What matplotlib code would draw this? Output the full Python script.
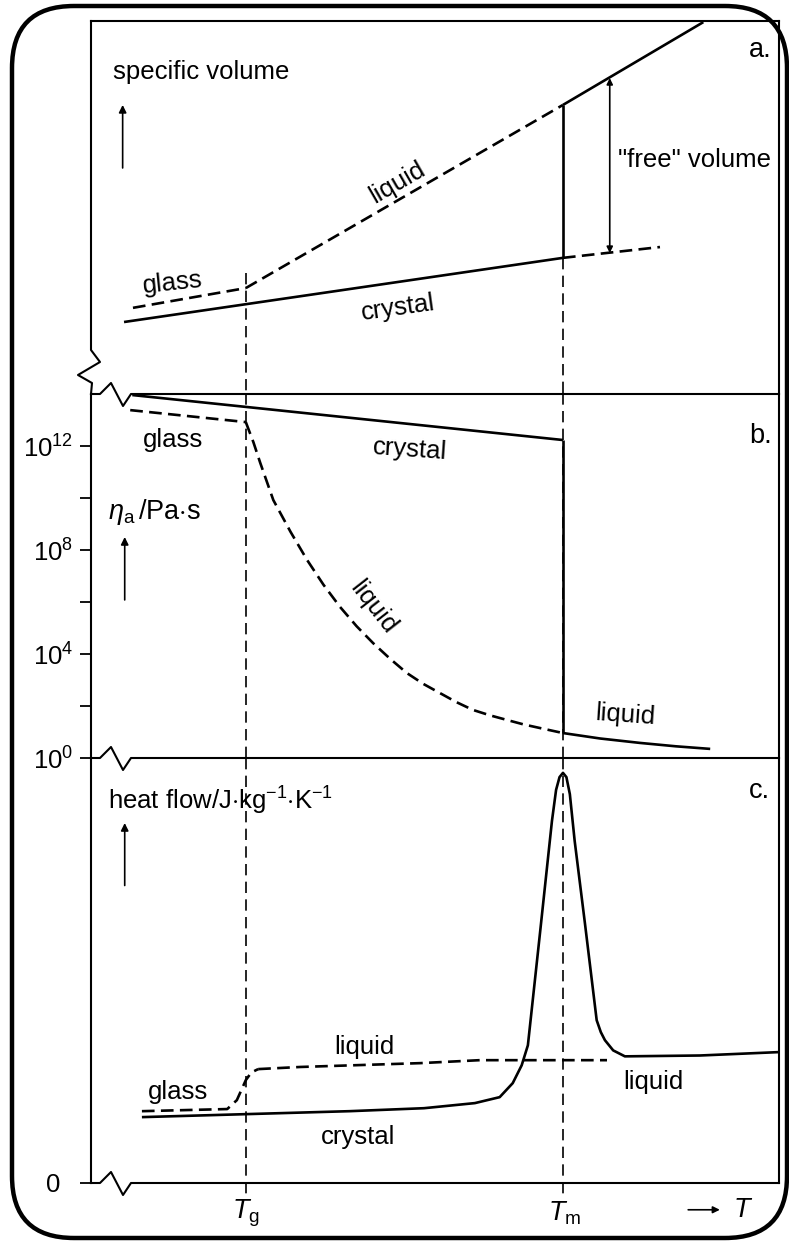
import numpy as np
import matplotlib
matplotlib.use('Agg')
import matplotlib.pyplot as plt
from matplotlib.patches import FancyBboxPatch
from matplotlib.ticker import FixedLocator, FixedFormatter, NullFormatter

plt.rcParams['font.family'] = ['Liberation Sans', 'DejaVu Sans']
plt.rcParams['mathtext.fontset'] = 'custom'
plt.rcParams['mathtext.rm'] = 'Liberation Sans'
plt.rcParams['mathtext.it'] = 'Liberation Sans:italic'
plt.rcParams['mathtext.bf'] = 'Liberation Sans:bold'

# temperature axis (arbitrary units)
T_g = 2.25
T_m = 6.86

# ---- a. specific volume ----
T_a_crystal = [0.48, 6.86]
V_a_crystal = [1.93, 3.65]
T_a_crystal_ext = [6.86, 8.27]
V_a_crystal_ext = [3.65, 3.94]
T_a_glass = [0.61, 2.25]
V_a_glass = [2.31, 2.84]
T_a_supercooled = [2.25, 6.86]
V_a_supercooled = [2.84, 7.75]
T_a_liquid = [6.86, 8.90]
V_a_liquid = [7.75, 9.97]
T_free = 7.54
V_free = [3.78, 8.47]
V_tg_top = 3.24

# ---- b. viscosity (log10 Pa s) ----
T_b_crystal = [0.60, 6.86]
logeta_b_crystal = [13.96, 12.23]
T_b_glass = [0.57, 2.25]
logeta_b_glass = [13.38, 12.92]
T_b_supercooled = [2.25, 2.36, 2.46, 2.65, 2.90, 3.14, 3.38, 3.62, 3.86, 4.10, 4.35,
                   4.59, 4.83, 5.07, 5.31, 5.55, 5.80, 6.05, 6.29, 6.53, 6.86]
logeta_b_supercooled = [12.92, 12.15, 11.35, 9.92, 8.70, 7.62, 6.66, 5.81, 5.07, 4.42, 3.81,
                        3.27, 2.85, 2.50, 2.15, 1.85, 1.64, 1.46, 1.29, 1.15, 0.96]
T_b_liquid = [6.86, 7.40, 7.98, 8.50, 9.00]
logeta_b_liquid = [0.96, 0.75, 0.58, 0.45, 0.35]
eta_ticks = [0, 4, 8, 12]
eta_minor = [2, 6, 10]

# ---- c. heat flow ----
T_c_crystal = [0.74, 2.25, 3.76, 4.84, 5.58, 5.94, 6.13, 6.26, 6.35, 6.53, 6.70, 6.76,
               6.81, 6.86, 6.91, 6.96, 7.03, 7.18, 7.35, 7.41, 7.47, 7.59, 7.76, 8.85, 10.0]
H_c_crystal = [1.55, 1.62, 1.69, 1.76, 1.88, 2.02, 2.35, 2.77, 3.24, 5.94, 8.52, 9.25,
               9.55, 9.65, 9.55, 9.15, 8.05, 6.10, 3.83, 3.55, 3.36, 3.12, 2.98, 3.00, 3.08]
T_c_glass = [0.74, 1.98, 2.12, 2.25, 2.33, 2.43]
H_c_glass = [1.69, 1.74, 1.95, 2.42, 2.60, 2.68]
T_c_supercooled = [2.43, 3.04, 4.78, 5.65, 7.50]
H_c_supercooled = [2.68, 2.73, 2.82, 2.89, 2.89]

FIG_W, FIG_H = 789, 1242
fig = plt.figure(figsize=(FIG_W / 100, FIG_H / 100), dpi=100)
LEFT, WIDTH = 91 / FIG_W, 688 / FIG_W
ax_a = fig.add_axes([LEFT, 1 - 394 / FIG_H, WIDTH, 373 / FIG_H])
ax_b = fig.add_axes([LEFT, 1 - 758 / FIG_H, WIDTH, 364 / FIG_H])
ax_c = fig.add_axes([LEFT, 1 - 1183 / FIG_H, WIDTH, 425 / FIG_H])

FS = 18.5
LW = 1.9
FRAME = 1.5
dash = dict(ls=(0, (4.8, 2.4)), lw=LW, color='k')
vdash = dict(ls=(0, (6.8, 3.8)), lw=1.2, color='k')
solid = dict(lw=LW, color='k', solid_capstyle='butt', solid_joinstyle='round')


def ax_px(ax):
    pos = ax.get_position()
    return pos.width * FIG_W, pos.height * FIG_H


def h_frame_line(ax, y):
    # horizontal frame line with a zig-zag break near the left
    w, h = ax_px(ax)
    xs = np.array([0, 9, 20, 32, 40, w]) / w
    ys = y + np.array([0, 0, 11, -12, 0, 0]) / h
    ax.plot(xs, ys, transform=ax.transAxes, color='k', lw=FRAME, clip_on=False)


def v_frame_break(ax):
    # left frame line with a zig-zag break near the bottom
    w, h = ax_px(ax)
    xs = np.array([0, 0, 9, -13, 1, 0]) / w
    ys = np.array([h, 44, 32, 19, 11, 0]) / h
    ax.plot(xs, ys, transform=ax.transAxes, color='k', lw=FRAME, clip_on=False)


def up_arrow(ax, x, y0, y1):
    ax.annotate('', xy=(x, y1), xytext=(x, y0),
                arrowprops=dict(arrowstyle='-|>', lw=1.2, color='k',
                                mutation_scale=11, shrinkA=0, shrinkB=0))


for ax in (ax_a, ax_b, ax_c):
    ax.set_xlim(0, 10)
    ax.set_xticks([])
    for s in ax.spines.values():
        s.set_linewidth(FRAME)
    ax.spines['bottom'].set_visible(False)
    ax.patch.set_visible(False)

# ---------- panel a ----------
ax_a.set_ylim(0, 10)
ax_a.set_yticks([])
ax_a.spines['left'].set_visible(False)
v_frame_break(ax_a)
ax_a.plot(T_a_crystal, V_a_crystal, **solid)
ax_a.plot(T_a_crystal_ext, V_a_crystal_ext, **dash)
ax_a.plot(T_a_glass, V_a_glass, **dash)
ax_a.plot(T_a_supercooled, V_a_supercooled, **dash)
ax_a.plot(T_a_liquid, V_a_liquid, **solid)
ax_a.plot([T_m, T_m], [V_a_crystal[-1], V_a_liquid[0]], **solid)
ax_a.plot([T_g, T_g], [V_tg_top, 0], **vdash)
ax_a.plot([T_m, T_m], [V_a_crystal[-1], 0], **vdash)
ax_a.annotate('', xy=(T_free, V_free[1]), xytext=(T_free, V_free[0]),
              arrowprops=dict(arrowstyle='<|-|>', lw=1.2, color='k',
                              mutation_scale=9, shrinkA=0, shrinkB=0))
ax_a.text(7.66, 6.27, '"free" volume', fontsize=FS, ha='left', va='center')
ax_a.text(9.90, 9.22, 'a.', fontsize=FS + 1, ha='right', va='center')
ax_a.text(0.32, 8.63, 'specific volume', fontsize=FS, ha='left', va='center')
up_arrow(ax_a, 0.46, 6.06, 7.75)
ax_a.text(1.19, 2.98, 'glass', fontsize=FS, ha='center', va='center', rotation=6)
ax_a.text(4.45, 5.66, 'liquid', fontsize=FS, ha='center', va='center', rotation=30)
ax_a.text(4.46, 2.31, 'crystal', fontsize=FS, ha='center', va='center', rotation=8)

# ---------- panel b ----------
ax_b.set_yscale('log')
ax_b.set_ylim(1, 1e14)
ax_b.spines['top'].set_visible(False)
h_frame_line(ax_b, 1.0)
ax_b.yaxis.set_major_locator(FixedLocator([10.0 ** p for p in eta_ticks]))
ax_b.yaxis.set_major_formatter(FixedFormatter([r'$10^{%d}$' % p for p in eta_ticks]))
ax_b.yaxis.set_minor_locator(FixedLocator([10.0 ** p for p in eta_minor]))
ax_b.yaxis.set_minor_formatter(NullFormatter())
ax_b.tick_params(axis='y', which='both', direction='out', length=8, width=1.3,
                 labelsize=FS, pad=5)
ax_b.plot(T_b_crystal, 10.0 ** np.array(logeta_b_crystal), **solid)
ax_b.plot(T_b_glass, 10.0 ** np.array(logeta_b_glass), **dash)
ax_b.plot(T_b_supercooled, 10.0 ** np.array(logeta_b_supercooled), **dash)
ax_b.plot(T_b_liquid, 10.0 ** np.array(logeta_b_liquid), **solid)
ax_b.plot([T_m, T_m], [10.0 ** logeta_b_crystal[-1], 10.0 ** logeta_b_liquid[0]], **solid)
ax_b.plot([T_g, T_g], [1, 1e14], **vdash)
ax_b.plot([T_m, T_m], [1, 1e14], **vdash)
ax_b.text(9.90, 10 ** 12.38, 'b.', fontsize=FS + 1, ha='right', va='center')
ax_b.text(0.25, 10 ** 9.46, r'$\eta_\mathrm{a}\,$/Pa$\cdot$s', fontsize=FS + 1,
          ha='left', va='center')
up_arrow(ax_b, 0.49, 10 ** 6.08, 10 ** 8.5)
ax_b.text(1.19, 10 ** 12.23, 'glass', fontsize=FS, ha='center', va='center')
ax_b.text(4.64, 10 ** 11.85, 'crystal', fontsize=FS, ha='center', va='center', rotation=-4)
ax_b.text(4.10, 10 ** 5.8, 'liquid', fontsize=FS, ha='center', va='center', rotation=-52)
ax_b.text(7.76, 10 ** 1.65, 'liquid', fontsize=FS, ha='center', va='center', rotation=-4)

# ---------- panel c ----------
ax_c.set_ylim(0, 10)
ax_c.spines['top'].set_visible(False)
h_frame_line(ax_c, 1.0)
h_frame_line(ax_c, 0.0)
ax_c.set_yticks([0])
ax_c.set_yticklabels(['0'])
ax_c.tick_params(axis='y', direction='out', length=8, width=1.3, labelsize=FS, pad=14)
ax_c.plot(T_c_crystal, H_c_crystal, **solid)
ax_c.plot(T_c_glass, H_c_glass, **dash)
ax_c.plot(T_c_supercooled, H_c_supercooled, **dash)
ax_c.plot([T_g, T_g], [10, -0.3], clip_on=False, **vdash)
ax_c.plot([T_m, T_m], [10, -0.3], clip_on=False, **vdash)
ax_c.text(9.87, 9.22, 'c.', fontsize=FS + 1, ha='right', va='center')
ax_c.text(0.25, 9.0, r'heat flow/J$\cdot$kg$^{-1}$$\cdot$K$^{-1}$', fontsize=FS,
          ha='left', va='center')
up_arrow(ax_c, 0.49, 7.0, 8.47)
ax_c.text(1.26, 2.14, 'glass', fontsize=FS, ha='center', va='center')
ax_c.text(3.98, 3.19, 'liquid', fontsize=FS, ha='center', va='center')
ax_c.text(3.88, 1.08, 'crystal', fontsize=FS, ha='center', va='center')
ax_c.text(8.17, 2.37, 'liquid', fontsize=FS, ha='center', va='center')

# temperature labels under the axis
ax_c.text(T_g, -0.72, r'$T_\mathrm{g}$', fontsize=FS + 1, ha='center', va='center')
ax_c.text(T_m + 0.03, -0.72, r'$T_\mathrm{m}$', fontsize=FS + 1, ha='center', va='center')
ax_c.annotate('', xy=(9.14, -0.63), xytext=(8.68, -0.63), annotation_clip=False,
              arrowprops=dict(arrowstyle='-|>', lw=1.2, color='k',
                              mutation_scale=10, shrinkA=0, shrinkB=0))
ax_c.text(9.48, -0.63, r'$T$', fontsize=FS + 1, ha='center', va='center')

# rounded outer frame
border = FancyBboxPatch((0.12, 0.04), 7.75, 12.32,
                        boxstyle='round,pad=0,rounding_size=0.62',
                        transform=fig.dpi_scale_trans, fill=False,
                        edgecolor='k', lw=3.2, clip_on=False)
fig.patches.append(border)

fig.savefig('out.png', dpi=100)
